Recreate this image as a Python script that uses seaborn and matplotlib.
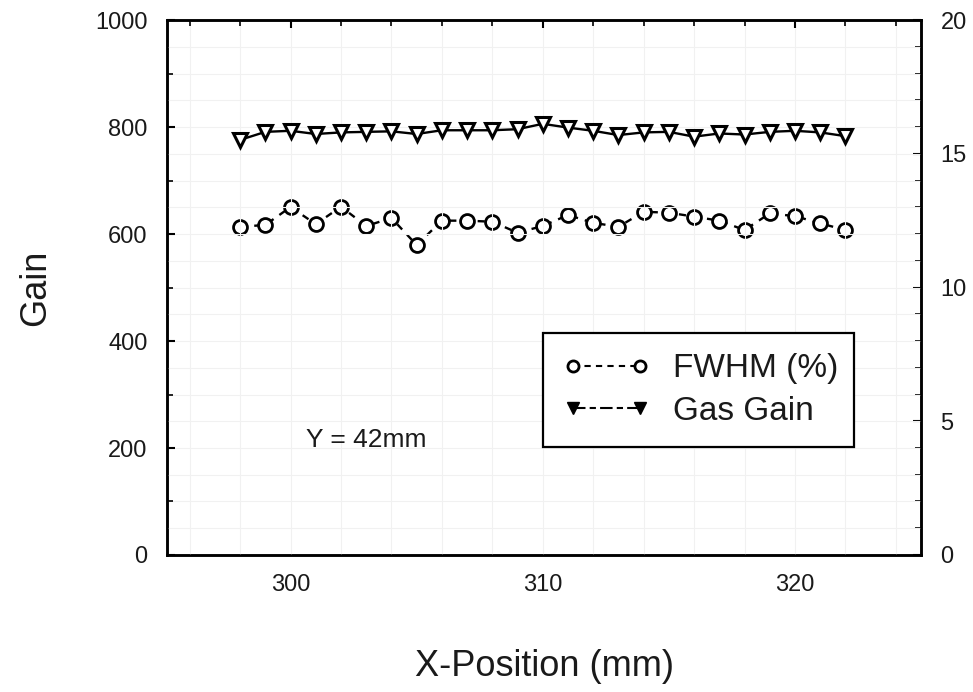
import matplotlib
matplotlib.use("Agg")
import matplotlib.pyplot as plt
from matplotlib.lines import Line2D
from matplotlib.ticker import MultipleLocator
import seaborn as sns
import pandas as pd

# ---- data ----
x_pos = [298, 299, 300, 301, 302, 303, 304, 305, 306, 307, 308, 309, 310,
         311, 312, 313, 314, 315, 316, 317, 318, 319, 320, 321, 322]
gas_gain = [776, 791, 793, 787, 790, 791, 792, 787, 794, 794, 794, 796, 806,
            799, 793, 785, 790, 791, 782, 788, 786, 791, 793, 790, 783]
fwhm_pct = [12.27, 12.34, 13.01, 12.37, 13.02, 12.30, 12.60, 11.59, 12.50, 12.50,
            12.46, 12.05, 12.30, 12.71, 12.42, 12.27, 12.83, 12.80, 12.65, 12.50,
            12.15, 12.77, 12.67, 12.40, 12.15]
left_ticks = [0, 200, 400, 600, 800, 1000]
right_ticks = [0, 5, 10, 15, 20]
x_ticks = [300, 310, 320]
series_names = ["FWHM (%)", "Gas Gain"]
annotation = "Y = 42mm"

sns.set_style("white")
plt.rcParams["font.family"] = ["Liberation Sans", "DejaVu Sans"]
plt.rcParams["text.color"] = "#1a1a1a"
plt.rcParams["axes.labelcolor"] = "#1a1a1a"
plt.rcParams["xtick.color"] = "black"
plt.rcParams["ytick.color"] = "black"
plt.rcParams["xtick.labelcolor"] = "#1a1a1a"
plt.rcParams["ytick.labelcolor"] = "#1a1a1a"

df = pd.DataFrame({"x": x_pos, "gain": gas_gain, "fwhm": fwhm_pct})

fig = plt.figure(figsize=(9.73, 6.92), dpi=100)
ax = fig.add_axes([0.1716, 0.198, 0.775, 0.773])
ax2 = ax.twinx()

sns.lineplot(data=df, x="x", y="gain", ax=ax, color="black", lw=1.7,
             marker="v", markersize=10, markerfacecolor="white",
             markeredgecolor="black", markeredgewidth=2.2, zorder=3)
sns.lineplot(data=df, x="x", y="fwhm", ax=ax2, color="black", lw=1.7,
             marker="o", markersize=10, markerfacecolor="white",
             markeredgecolor="black", markeredgewidth=2.0, zorder=3)
ax2.lines[0].set_dashes([3, 3])

ax.set_xlim(295.1, 325.0)
ax.set_ylim(0, 1000)
ax2.set_ylim(0, 20)

ax.set_xticks(x_ticks)
ax.xaxis.set_minor_locator(MultipleLocator(2))
ax.set_yticks(left_ticks)
ax.yaxis.set_minor_locator(MultipleLocator(100))
ax2.set_yticks(right_ticks)
ax2.yaxis.set_minor_locator(MultipleLocator(1))

# faint grid
for gx in range(296, 326, 2):
    ax.axvline(gx, color="#f1f1f1", lw=0.8, zorder=0)
for gy in range(50, 1000, 50):
    ax.axhline(gy, color="#f1f1f1", lw=0.8, zorder=0)

ax.tick_params(axis="both", which="both", direction="in",
               labelsize=17, top=True, right=False, pad=14)
ax.tick_params(axis="both", which="major", length=6, width=1.5)
ax.tick_params(axis="both", which="minor", length=4, width=1.2)
ax2.tick_params(axis="y", which="both", direction="in", labelsize=17, pad=14, right=True)
ax2.tick_params(axis="y", which="major", length=6, width=1.5)
ax2.tick_params(axis="y", which="minor", length=4, width=1.2)

for sp in list(ax.spines.values()) + list(ax2.spines.values()):
    sp.set_linewidth(1.8)
    sp.set_color("black")

ax.set_xlabel("X-Position (mm)", fontsize=26, labelpad=38)
ax.set_ylabel("Gain", fontsize=26, labelpad=30)
ax2.set_ylabel("")

ax.text(303.0, 215, annotation, fontsize=19, ha="center", va="center")

handles = [
    Line2D([], [], color="black", lw=1.5, dashes=[3, 2.5], marker="o",
           markersize=8, markerfacecolor="white", markeredgecolor="black",
           markeredgewidth=2.0),
    Line2D([], [], color="black", lw=1.5, dashes=[6, 2, 3, 2], marker="v",
           markersize=8, markerfacecolor="black", markeredgecolor="black"),
]
leg = ax.legend(handles, series_names, loc="lower left",
                bbox_to_anchor=(0.4987, 0.202, 0.4125, 0.245), mode="expand",
                fontsize=24, frameon=True, fancybox=False, numpoints=2,
                handlelength=2.6, borderpad=0.6, labelspacing=0.35,
                handletextpad=0.7, borderaxespad=0)
leg.get_frame().set_edgecolor("black")
leg.get_frame().set_linewidth(1.6)
leg.get_frame().set_alpha(1)
leg.set_zorder(5)
ax.set_zorder(ax2.get_zorder() + 1)
ax.patch.set_visible(False)

fig.savefig("out.png", dpi=100)
